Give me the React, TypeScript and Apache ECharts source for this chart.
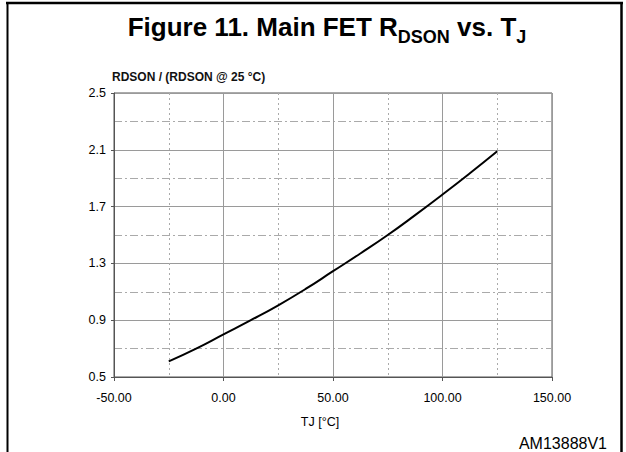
import React, { useEffect, useRef } from "react";
import * as echarts from "echarts";

const tjValues = [-25, -12.5, 0, 12.5, 25, 37.5, 50, 62.5, 75, 87.5, 100, 112.5, 125];
const rdsonValues = [0.61, 0.70, 0.80, 0.90, 1.005, 1.12, 1.245, 1.37, 1.50, 1.64, 1.785, 1.935, 2.09];
const yAxisTitle = "RDSON / (RDSON @ 25 °C)";
const xAxisTitle = "TJ [°C]";
const figureId = "AM13888V1";

const FONT = "'Liberation Sans', Arial, sans-serif";

export default function App() {
  const ref = useRef<HTMLDivElement>(null);
  useEffect(() => {
    document.body.style.margin = "0";
    const chart = echarts.init(ref.current!, null, { renderer: "svg" });
    const data = tjValues.map((t, i) => [t, rdsonValues[i]]);
    chart.setOption({
      animation: false,
      backgroundColor: "#fff",
      grid: {
        left: 114,
        right: 74,
        top: 93,
        bottom: 75,
        show: true,
        borderColor: "#555",
        borderWidth: 1,
      },
      xAxis: {
        type: "value",
        min: -50,
        max: 150,
        interval: 50,
        axisLine: { show: true, onZero: false, lineStyle: { color: "#555", width: 1 } },
        axisTick: { show: true, length: 4, lineStyle: { color: "#555" } },
        axisLabel: {
          margin: 14,
          fontFamily: FONT,
          fontSize: 12.5,
          color: "#000",
          formatter: (v: number) => v.toFixed(2),
        },
        splitLine: { show: true, lineStyle: { color: "#9a9a9a", width: 1 } },
        minorTick: { show: false, splitNumber: 2 },
        minorSplitLine: { show: true, lineStyle: { color: "#aaa", width: 1, type: [2, 3] } },
      },
      yAxis: {
        type: "value",
        min: 0.5,
        max: 2.5,
        interval: 0.4,
        name: yAxisTitle,
        nameLocation: "end",
        nameGap: 10,
        nameTextStyle: {
          align: "left",
          fontFamily: FONT,
          fontSize: 12,
          fontWeight: "bold",
          color: "#111",
          padding: [0, 0, 0, -2],
        },
        axisLine: { show: true, onZero: false, lineStyle: { color: "#555", width: 1 } },
        axisTick: { show: true, length: 3, lineStyle: { color: "#555" } },
        axisLabel: {
          margin: 8,
          fontFamily: FONT,
          fontSize: 12.5,
          color: "#000",
          formatter: (v: number) => v.toFixed(1),
        },
        splitLine: { show: true, lineStyle: { color: "#9a9a9a", width: 1 } },
        minorTick: { show: false, splitNumber: 2 },
        minorSplitLine: { show: true, lineStyle: { color: "#aaa", width: 1, type: [8, 3, 2, 3] } },
      },
      series: [
        {
          type: "line",
          data,
          smooth: true,
          symbol: "none",
          lineStyle: { color: "#000", width: 2 },
        },
      ],
      graphic: [
        { type: "line", shape: { x1: 6, y1: 3, x2: 623, y2: 3 }, style: { stroke: "#000", lineWidth: 2.5 } },
        { type: "line", shape: { x1: 7.5, y1: 3, x2: 7.5, y2: 452 }, style: { stroke: "#000", lineWidth: 2 } },
        { type: "line", shape: { x1: 621.5, y1: 3, x2: 621.5, y2: 452 }, style: { stroke: "#000", lineWidth: 2.5 } },
        {
          type: "text",
          x: 327,
          y: 14,
          style: {
            text: "{a|Figure 11. Main FET R}{b|DSON}{a| vs. T}{b|J}",
            align: "center",
            verticalAlign: "top",
            fill: "#000",
            rich: {
              a: { fontFamily: FONT, fontWeight: "bold", fontSize: 26, lineHeight: 26, verticalAlign: "top", fill: "#000" },
              b: { fontFamily: FONT, fontWeight: "bold", fontSize: 18, lineHeight: 32, verticalAlign: "bottom", fill: "#000" },
            },
          },
        },
        {
          type: "text",
          x: 320,
          y: 422,
          style: { text: xAxisTitle, align: "center", verticalAlign: "middle", fontFamily: FONT, fontSize: 12.5, fill: "#000" },
        },
        {
          type: "text",
          x: 607,
          y: 443,
          style: { text: figureId, align: "right", verticalAlign: "middle", fontFamily: FONT, fontSize: 16, fill: "#000" },
        },
      ],
    });
    return () => chart.dispose();
  }, []);
  return <div ref={ref} style={{ width: 626, height: 452 }} />;
}
